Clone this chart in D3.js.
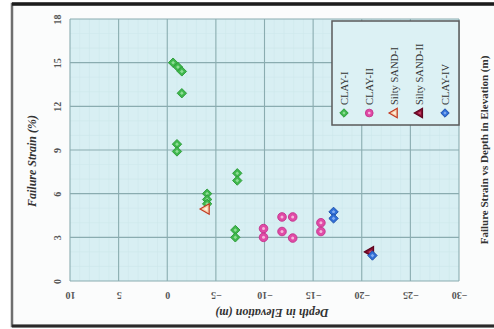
<!DOCTYPE html>
<html>
<head>
<meta charset="utf-8">
<script src="https://cdn.jsdelivr.net/npm/d3@7"></script>
<style>
  html, body { margin: 0; padding: 0; background: #ffffff; }
  svg { display: block; }
</style>
</head>
<body>
<svg id="chart" width="494" height="329"></svg>
<script>
// Failure strain (%) against depth in elevation (m), per soil group
const xTicks = [10, 5, 0, -5, -10, -15, -20, -25, -30];
const yTicks = [0, 3, 6, 9, 12, 15, 18];

const clay1Depth  = [-0.6, -1.1, -1.5, -1.5, -1.0, -1.0, -7.2, -7.2, -4.1, -4.1, -4.1, -7.0, -7.0];
const clay1Strain = [15.0, 14.7, 14.4, 12.9, 9.4, 8.9, 7.4, 6.9, 6.0, 5.6, 5.3, 3.5, 3.0];

const clay2Depth  = [-9.9, -9.9, -11.8, -12.9, -11.8, -12.9, -15.8, -15.8];
const clay2Strain = [3.6, 3.0, 4.4, 4.4, 3.4, 2.95, 4.0, 3.4];

const sand1Depth  = [-4.0];
const sand1Strain = [4.95];

const sand2Depth  = [-20.9];
const sand2Strain = [2.0];

const clay4Depth  = [-17.1, -17.1, -21.1];
const clay4Strain = [4.75, 4.3, 1.75];

const seriesNames = ["CLAY-I", "CLAY-II", "Silty SAND-I", "Silty SAND-II", "CLAY-IV"];

const series = [
  { name: seriesNames[0], depth: clay1Depth, strain: clay1Strain, shape: "diamond",  fill: "#3fb84c", stroke: "#2d9a3a", inner: "#9be3a2" },
  { name: seriesNames[1], depth: clay2Depth, strain: clay2Strain, shape: "circle",   fill: "#e04aa6", stroke: "#c2338b", inner: "#f6b6dc" },
  { name: seriesNames[2], depth: sand1Depth, strain: sand1Strain, shape: "triangle", fill: "#f7d2ae", stroke: "#c23a22", inner: "#fff1e2" },
  { name: seriesNames[3], depth: sand2Depth, strain: sand2Strain, shape: "triangle", fill: "#8c0f33", stroke: "#5e0620", inner: "#c44a6a" },
  { name: seriesNames[4], depth: clay4Depth, strain: clay4Strain, shape: "diamond",  fill: "#2f6fd8", stroke: "#1f4fa8", inner: "#8fb6f2" }
];

const svg = d3.select("#chart");
const W = 494, H = 329;
const plot = { left: 70, right: 459, top: 19, bottom: 281 };

const x = d3.scaleLinear().domain([10, -30]).range([plot.left, plot.right]);
const y = d3.scaleLinear().domain([0, 18]).range([plot.bottom, plot.top]);

// frame
svg.append("rect").attr("x", 0).attr("y", 0).attr("width", W).attr("height", H).attr("fill", "#ffffff");
svg.append("rect").attr("x", 12).attr("y", 4).attr("width", W - 10).attr("height", 322)
  .attr("fill", "#fbfcfc").attr("stroke", "#6f6f6f").attr("stroke-width", 2.5);
svg.append("line").attr("x1", 12).attr("x2", W).attr("y1", 4).attr("y2", 4)
  .attr("stroke", "#1c1c1c").attr("stroke-width", 3.5);
svg.append("line").attr("x1", 12).attr("x2", W).attr("y1", 326).attr("y2", 326)
  .attr("stroke", "#2a2a2a").attr("stroke-width", 3);

// plot background
svg.append("rect")
  .attr("x", plot.left).attr("y", plot.top)
  .attr("width", plot.right - plot.left).attr("height", plot.bottom - plot.top)
  .attr("fill", "#d8eff3");

// minor grid
const minorX = d3.range(-30, 10, 1).filter(v => v % 5 !== 0);
const minorY = d3.range(0, 18, 1).filter(v => v % 3 !== 0);
svg.append("g").selectAll("line").data(minorX).join("line")
  .attr("x1", d => x(d)).attr("x2", d => x(d))
  .attr("y1", plot.top).attr("y2", plot.bottom)
  .attr("stroke", "#cde7eb").attr("stroke-width", 0.6);
svg.append("g").selectAll("line").data(minorY).join("line")
  .attr("y1", d => y(d)).attr("y2", d => y(d))
  .attr("x1", plot.left).attr("x2", plot.right)
  .attr("stroke", "#cde7eb").attr("stroke-width", 0.6);

// major grid
svg.append("g").selectAll("line").data(xTicks).join("line")
  .attr("x1", d => x(d)).attr("x2", d => x(d))
  .attr("y1", plot.top).attr("y2", plot.bottom)
  .attr("stroke", "#8aacb0").attr("stroke-width", 1.1);
svg.append("g").selectAll("line").data(yTicks).join("line")
  .attr("y1", d => y(d)).attr("y2", d => y(d))
  .attr("x1", plot.left).attr("x2", plot.right)
  .attr("stroke", "#8aacb0").attr("stroke-width", 1.1);

// axes drawn through d3 axis generators, labels turned to follow the page orientation
const font = "'Liberation Serif', 'DejaVu Serif', serif";

const xAxis = svg.append("g").attr("transform", `translate(0,${plot.bottom})`)
  .call(d3.axisBottom(x).tickValues(xTicks).tickSize(0).tickPadding(0));
xAxis.select(".domain").remove();
xAxis.selectAll("text")
  .attr("y", 0).attr("dy", null)
  .attr("transform", "translate(0,14) rotate(180)")
  .attr("text-anchor", "middle")
  .attr("dominant-baseline", "central")
  .attr("font-family", font).attr("font-size", 10).attr("font-weight", "bold")
  .attr("fill", "#555");

const yAxis = svg.append("g").attr("transform", `translate(${plot.left},0)`)
  .call(d3.axisLeft(y).tickValues(yTicks).tickSize(0).tickPadding(0));
yAxis.select(".domain").remove();
yAxis.selectAll("text")
  .attr("x", 0).attr("dy", null)
  .attr("transform", "translate(-13,0) rotate(-90)")
  .attr("text-anchor", "middle")
  .attr("dominant-baseline", "central")
  .attr("font-family", font).attr("font-size", 10).attr("font-weight", "bold")
  .attr("fill", "#555");

// axis titles
svg.append("text")
  .attr("transform", "translate(272,313) rotate(180)")
  .attr("text-anchor", "middle").attr("dominant-baseline", "central")
  .attr("font-family", font).attr("font-size", 12).attr("font-weight", "bold").attr("font-style", "italic")
  .attr("fill", "#333")
  .text("Depth in Elevation (m)");

svg.append("text")
  .attr("transform", "translate(32,161) rotate(-90)")
  .attr("text-anchor", "middle").attr("dominant-baseline", "central")
  .attr("font-family", font).attr("font-size", 12).attr("font-weight", "bold").attr("font-style", "italic")
  .attr("fill", "#333")
  .text("Failure Strain (%)");

svg.append("text")
  .attr("transform", "translate(484,150) rotate(-90)")
  .attr("text-anchor", "middle").attr("dominant-baseline", "central")
  .attr("font-family", font).attr("font-size", 11).attr("font-weight", "bold")
  .attr("fill", "#333")
  .text("Failure Strain vs Depth in Elevation (m)");

// marker drawing
function drawMarker(g, s, cx, cy, scale) {
  scale = scale || 1;
  const m = g.append("g").attr("transform", `translate(${cx},${cy})`);
  if (s.shape === "diamond") {
    const sym = d3.symbol().type(d3.symbolSquare);
    m.append("path").attr("d", sym.size(44 * scale * scale)()).attr("transform", "rotate(45)")
      .attr("fill", s.fill).attr("stroke", s.stroke).attr("stroke-width", 0.9);
    m.append("path").attr("d", sym.size(7 * scale * scale)()).attr("transform", "rotate(45)")
      .attr("fill", s.inner).attr("opacity", 0.85);
  } else if (s.shape === "circle") {
    m.append("circle").attr("r", 4.3 * scale)
      .attr("fill", s.fill).attr("stroke", s.stroke).attr("stroke-width", 0.9);
    m.append("circle").attr("r", 1.5 * scale).attr("fill", s.inner);
  } else {
    const sym = d3.symbol().type(d3.symbolTriangle);
    m.append("path").attr("d", sym.size(48 * scale * scale)()).attr("transform", "rotate(-90)")
      .attr("fill", s.fill).attr("stroke", s.stroke).attr("stroke-width", 1.2);
    m.append("path").attr("d", sym.size(7 * scale * scale)()).attr("transform", "rotate(-90)")
      .attr("fill", s.inner);
  }
}

const pts = svg.append("g");
series.forEach(s => {
  s.depth.forEach((d, i) => drawMarker(pts, s, x(d), y(s.strain[i])));
});

// legend
const legend = svg.append("g");
legend.append("rect")
  .attr("x", 332).attr("y", 21).attr("width", 127).attr("height", 104)
  .attr("fill", "#dcf1f4").attr("stroke", "#5a5a5a").attr("stroke-width", 1.5);
const legendX = d3.scalePoint().domain(seriesNames).range([344, 445]);
series.forEach(s => {
  const lx = legendX(s.name);
  drawMarker(legend, s, lx, 113, 0.9);
  legend.append("text")
    .attr("transform", `translate(${lx},105) rotate(-90)`)
    .attr("text-anchor", "start").attr("dominant-baseline", "central")
    .attr("font-family", font).attr("font-size", 10.5)
    .attr("fill", "#333")
    .text(s.name);
});
</script>
</body>
</html>
